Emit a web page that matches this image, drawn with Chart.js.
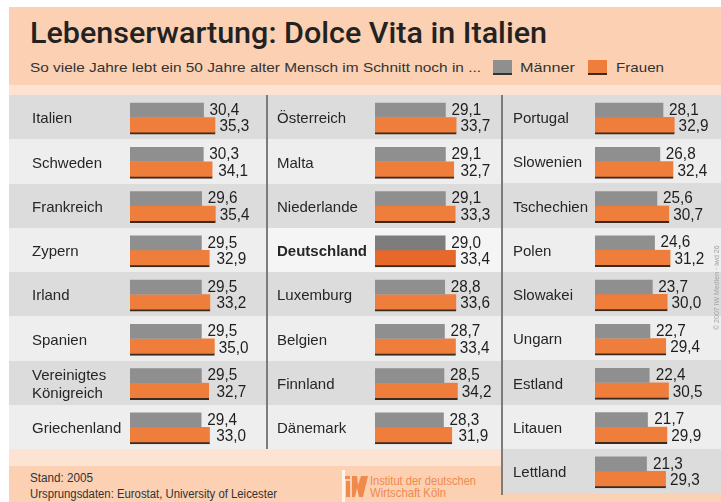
<!DOCTYPE html>
<html>
<head>
<meta charset="utf-8">
<script src="https://cdn.jsdelivr.net/npm/chart.js@4.4.1/dist/chart.umd.min.js"></script>
<style>
body { margin: 0; background: #fff; }
#page { position: relative; width: 721px; height: 502px; overflow: hidden; font-family: "Liberation Sans", Arial, sans-serif; color: #262626; }
.abs { position: absolute; }
.txt { position: absolute; white-space: nowrap; transform-origin: 0 0; }
canvas { position: absolute; }
.sq { position: absolute; width: 19px; height: 13px; }
</style>
</head>
<body>
<div id="page">
  <div class="abs" style="left:9px;top:7px;width:712px;height:78px;background:#fbd0b3"></div>
  <div class="abs" style="left:9px;top:85px;width:712px;height:10px;background:#fde3d3"></div>
  <div class="abs" style="left:9px;top:449px;width:712px;height:17px;background:#fde3d3"></div>
  <div class="abs" style="left:9px;top:466px;width:712px;height:36px;background:#fbd0b3"></div>

  <div class="txt" data-w="517" style="left:30px;top:19px;font:500 29px Roboto, sans-serif;line-height:29px;color:#222">Lebenserwartung: Dolce Vita in Italien</div>
  <div class="txt" data-w="451" style="left:30px;top:61px;font-size:13.5px;line-height:13.5px;color:#333">So viele Jahre lebt ein 50 Jahre alter Mensch im Schnitt noch in ...</div>
  <div class="sq" style="left:493px;top:60px;background:#8f8f8f;border-bottom:2px solid #333"></div>
  <div class="txt" data-w="55" style="left:520px;top:61px;font-size:13.5px;line-height:13.5px;color:#333">Männer</div>
  <div class="sq" style="left:588px;top:60px;background:#ef7d3b;border-bottom:2px solid #3b2a1f"></div>
  <div class="txt" data-w="48" style="left:616px;top:61px;font-size:13.5px;line-height:13.5px;color:#333">Frauen</div>

  <div class="txt" data-w="63" style="left:30px;top:472px;font-size:12px;line-height:12px;color:#333">Stand: 2005</div>
  <div class="txt" data-w="247" style="left:30px;top:488px;font-size:12px;line-height:12px;color:#333">Ursprungsdaten: Eurostat, University of Leicester</div>

  <div class="abs" style="left:342px;top:470px;width:3px;height:32px;background:#fff3ea"></div>
  <svg class="abs" style="left:345px;top:476px" width="23" height="21" viewBox="0 0 23 21">
    <rect x="0" y="0" width="5" height="3" fill="#f08a4b"/>
    <rect x="1" y="5" width="4" height="16" fill="#f08a4b"/>
    <polygon points="7,0 12,0 13,9 16,0 20,0 23,0 18,21 14,21 12,12 10,21 7,21" fill="#f08a4b"/>
  </svg>
  <div class="txt" data-w="106" style="left:370px;top:475px;font-size:12px;line-height:12px;color:#f08a4b">Institut der deutschen</div>
  <div class="txt" data-w="76" style="left:370px;top:487px;font-size:12px;line-height:12px;color:#f08a4b">Wirtschaft Köln</div>

  <canvas id="col1" width="257" height="354" style="left:9px;top:95px"></canvas>
  <canvas id="col2" width="235" height="354" style="left:266px;top:95px"></canvas>
  <canvas id="col3" width="220" height="402" style="left:501px;top:95px"></canvas>

  <div class="txt" style="left:713px;top:330px;font-size:7px;line-height:8px;color:#a0a0a0;transform:rotate(-90deg)">© 2007 IW Medien · iwd 26</div>
</div>
<script>
// Lebenserwartung mit 50 Jahren, Stand 2005
const countries1 = ['Italien', 'Schweden', 'Frankreich', 'Zypern', 'Irland', 'Spanien', ['Vereinigtes', 'Königreich'], 'Griechenland'];
const men1 = [30.4, 30.3, 29.6, 29.5, 29.5, 29.5, 29.5, 29.4];
const women1 = [35.3, 34.1, 35.4, 32.9, 33.2, 35.0, 32.7, 33.0];

const countries2 = ['Österreich', 'Malta', 'Niederlande', 'Deutschland', 'Luxemburg', 'Belgien', 'Finnland', 'Dänemark'];
const men2 = [29.1, 29.1, 29.1, 29.0, 28.8, 28.7, 28.5, 28.3];
const women2 = [33.7, 32.7, 33.3, 33.4, 33.6, 33.4, 34.2, 31.9];

const countries3 = ['Portugal', 'Slowenien', 'Tschechien', 'Polen', 'Slowakei', 'Ungarn', 'Estland', 'Litauen', 'Lettland'];
const men3 = [28.1, 26.8, 25.6, 24.6, 23.7, 22.7, 22.4, 21.7, 21.3];
const women3 = [32.9, 32.4, 30.7, 31.2, 30.0, 29.4, 30.5, 29.9, 29.3];

const highlight = 'Deutschland';
const pxPerYear = 2.42;
const fontFamily = '"Liberation Sans", Arial, sans-serif';

// stretch html texts to the widths of the original
document.querySelectorAll('[data-w]').forEach(el => {
  const w = el.getBoundingClientRect().width;
  el.style.transform = 'scaleX(' + (el.dataset.w / w) + ')';
});

const fmt = v => v.toFixed(1).replace('.', ',');

const rowsPlugin = {
  id: 'rows',
  beforeDraw(chart) {
    const ctx = chart.ctx;
    const y = chart.scales.y;
    const labels = chart.data.labels;
    const band = (y.bottom - y.top) / labels.length;
    labels.forEach((l, i) => {
      const top = Math.round(y.top + i * band);
      const bottom = Math.round(y.top + (i + 1) * band);
      ctx.fillStyle = l === highlight ? '#f5f5f5' : (i % 2 ? '#eeeeee' : '#dcdcdc');
      ctx.fillRect(0, top, chart.width, bottom - top);
    });
  },
  afterDatasetsDraw(chart) {
    const ctx = chart.ctx;
    const gray = chart.getDatasetMeta(0).data;
    const orange = chart.getDatasetMeta(1).data;
    const men = chart.data.datasets[0].data;
    const women = chart.data.datasets[1].data;
    ctx.save();
    ctx.font = '17px ' + fontFamily;
    ctx.fillStyle = '#1e1e1e';
    ctx.textBaseline = 'middle';
    gray.forEach((bar, i) => {
      const ob = orange[i];
      const gx = Math.max(bar.x + 6, ob.x - 13);
      const ox = Math.max(ob.x + 4, gx + 9);
      [[fmt(men[i]), gx, bar.y], [fmt(women[i]), ox, ob.y + 1]].forEach(t => {
        ctx.save();
        ctx.translate(t[1], t[2]);
        ctx.scale(0.9, 1);
        ctx.fillText(t[0], 0, 0);
        ctx.restore();
      });
    });
    ctx.restore();
  },
  afterDraw(chart, args, opts) {
    if (opts.separator) {
      chart.ctx.fillStyle = '#7c7c7c';
      chart.ctx.fillRect(0, 0, 2, opts.separator);
    }
  }
};

function buildChart(id, labels, men, women, origin, labelLeft, bottomPad, separator) {
  const canvas = document.getElementById(id);
  const isHi = i => labels[i] === highlight;
  return new Chart(canvas, {
    type: 'bar',
    data: {
      labels: labels,
      datasets: [
        {
          label: 'Männer',
          data: men,
          backgroundColor: c => isHi(c.dataIndex) ? '#7d7d7d' : '#8f8f8f',
          barThickness: 14,
          borderWidth: 0
        },
        {
          label: 'Frauen',
          data: women,
          backgroundColor: c => isHi(c.dataIndex) ? '#e8672a' : '#ef7d3b',
          barThickness: 17,
          borderWidth: { top: 0, right: 0, bottom: 2, left: 0 },
          borderColor: '#3b2a1f',
          borderSkipped: false
        }
      ]
    },
    options: {
      indexAxis: 'y',
      responsive: false,
      animation: false,
      devicePixelRatio: 1,
      layout: { padding: { left: labelLeft, top: 0, right: 0, bottom: bottomPad } },
      scales: {
        x: { display: false, min: 0, max: (canvas.width - origin) / pxPerYear },
        y: {
          grid: { display: false },
          border: { display: false },
          ticks: {
            autoSkip: false,
            crossAlign: 'far',
            padding: 0,
            labelOffset: 2,
            color: '#262626',
            font: c => ({ family: fontFamily, size: 15, weight: isHi(c.index) ? 'bold' : 'normal', lineHeight: 1.2 })
          },
          afterFit: s => {
            s.width = origin - labelLeft;
            s.paddingTop = 0;
            s.paddingBottom = 0;
          }
        }
      },
      plugins: {
        legend: { display: false },
        tooltip: { enabled: false },
        rows: { separator: separator }
      }
    },
    plugins: [rowsPlugin]
  });
}

buildChart('col1', countries1, men1, women1, 121, 23, 0, 0);
buildChart('col2', countries2, men2, women2, 109, 11, 0, 354);
buildChart('col3', countries3, men3, women3, 94, 12, 4, 400);
</script>
</body>
</html>
